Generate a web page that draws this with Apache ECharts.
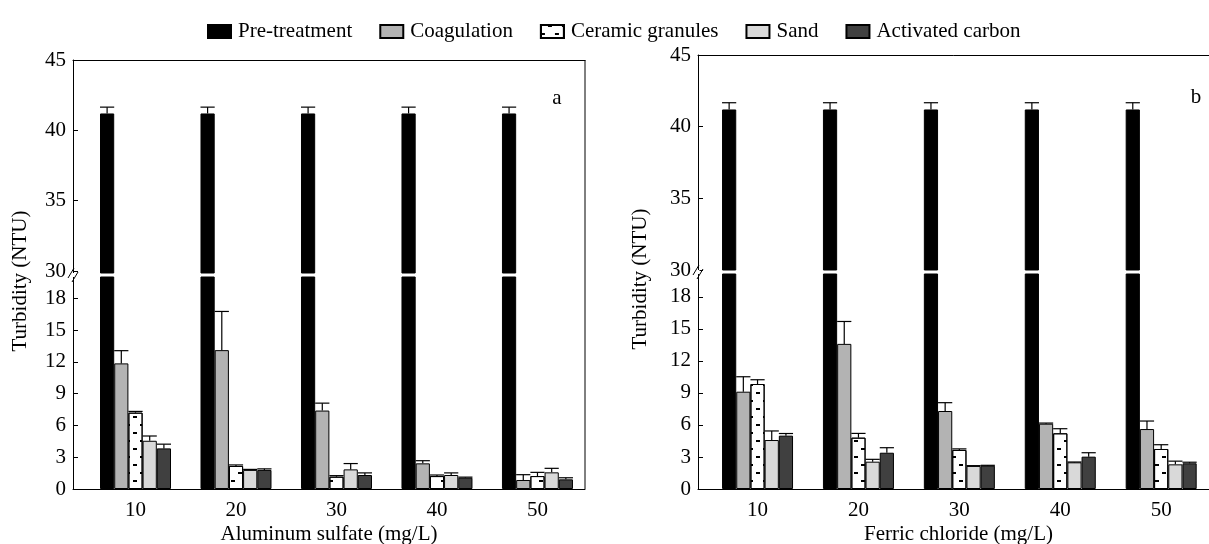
<!DOCTYPE html>
<html>
<head>
<meta charset="utf-8">
<script src="https://cdn.jsdelivr.net/npm/echarts@6/dist/echarts.min.js"></script>
<style>
html,body{margin:0;padding:0;background:#fff;}
#chart{width:1209px;height:544px;}
</style>
</head>
<body>
<div id="chart"></div>
<script>
// ---------------- data ----------------
const categories = [10, 20, 30, 40, 50];
const seriesNames = ['Pre-treatment', 'Coagulation', 'Ceramic granules', 'Sand', 'Activated carbon'];
const upperTicks = [30, 35, 40, 45];
const lowerTicks = [0, 3, 6, 9, 12, 15, 18];

// Panel a: Aluminum sulfate
const alPre = [41.2, 41.2, 41.2, 41.2, 41.2];
const alPreErr = [0.45, 0.45, 0.45, 0.45, 0.45];
const alCoag = [11.85, 13.1, 7.4, 2.42, 0.85];
const alCoagErr = [1.2, 3.65, 0.7, 0.25, 0.5];
const alCer = [7.2, 2.17, 1.16, 1.22, 1.22];
const alCerErr = [0.12, 0.1, 0.1, 0.1, 0.35];
const alSand = [4.55, 1.8, 1.85, 1.32, 1.57];
const alSandErr = [0.45, 0.05, 0.55, 0.2, 0.38];
const alAC = [3.83, 1.8, 1.32, 1.07, 0.91];
const alACErr = [0.4, 0.1, 0.2, 0.05, 0.15];

// Panel b: Ferric chloride
const fePre = [41.2, 41.2, 41.2, 41.2, 41.2];
const fePreErr = [0.47, 0.47, 0.47, 0.47, 0.47];
const feCoag = [9.12, 13.6, 7.31, 6.12, 5.62];
const feCoagErr = [1.4, 2.1, 0.78, 0.06, 0.75];
const feCer = [9.84, 4.81, 3.66, 5.22, 3.75];
const feCerErr = [0.4, 0.4, 0.1, 0.43, 0.4];
const feSand = [4.59, 2.56, 2.16, 2.5, 2.31];
const feSandErr = [0.85, 0.22, 0.03, 0.03, 0.3];
const feAC = [5.0, 3.4, 2.19, 3.03, 2.41];
const feACErr = [0.2, 0.47, 0.03, 0.37, 0.1];

// ---------------- styles ----------------
const FONT = 'Liberation Serif';
const FS = 21;
const BAR_W = 14.2;
const seriesStyles = [
  { color: '#000000', borderColor: '#000', borderWidth: 1 },
  { color: '#b3b3b3', borderColor: '#000', borderWidth: 1 },
  { color: '#ffffff', borderColor: '#000', borderWidth: 1,
    decal: { symbol: 'rect', symbolSize: 1, color: '#000',
             dashArrayX: [[4, 10], [0, 7, 4, 3]], dashArrayY: [1.2, 5.8], rotation: 0 } },
  { color: '#d9d9d9', borderColor: '#000', borderWidth: 1 },
  { color: '#404040', borderColor: '#000', borderWidth: 1 }
];

const panels = [
  { vals: [alPre, alCoag, alCer, alSand, alAC],
    errs: [alPreErr, alCoagErr, alCerErr, alSandErr, alACErr],
    xName: 'Aluminum sulfate (mg/L)', xMin: 3.78, xMax: 54.73,
    left: 73, right: 1209 - 585,
    upTop: 60, upBottom: 273, upMin: 29.86,
    lowTop: 277, lowMax: 20 },
  { vals: [fePre, feCoag, feCer, feSand, feAC],
    errs: [fePreErr, feCoagErr, feCerErr, feSandErr, feACErr],
    xName: 'Ferric chloride (mg/L)', xMin: 4.1, xMax: 55.73,
    left: 698, right: -10,
    upTop: 55, upBottom: 270, upMin: 30,
    lowTop: 274, lowMax: 20.15 }
];
const BOTTOM_Y = 489;

const grid = [], xAxis = [], yAxis = [], series = [];
const axisLineStyle = { color: '#000', width: 1 };
const labelStyle = { fontFamily: FONT, fontSize: FS, color: '#000' };

function errRender(params, api) {
  const x = api.value(0), v = api.value(1), e = api.value(2), k = api.value(3);
  const base = api.coord([x, v]);
  const top = api.coord([x, v + e]);
  const cx = base[0] + (k - 2) * BAR_W;
  const st = { stroke: '#000', lineWidth: 1.2 };
  return { type: 'group', children: [
    { type: 'line', shape: { x1: cx, y1: base[1], x2: cx, y2: top[1] }, style: st },
    { type: 'line', shape: { x1: cx - BAR_W / 2, y1: top[1], x2: cx + BAR_W / 2, y2: top[1] }, style: st }
  ]};
}

panels.forEach((p, pi) => {
  const gU = grid.length;
  grid.push({ left: p.left, right: p.right, top: p.upTop, height: p.upBottom - p.upTop,
    containLabel: false, outerBoundsMode: 'none' });
  const gL = grid.length;
  grid.push({ left: p.left, right: p.right, top: p.lowTop, height: BOTTOM_Y - p.lowTop,
    containLabel: false, outerBoundsMode: 'none' });

  const xU = xAxis.length;
  xAxis.push({ type: 'value', gridIndex: gU, min: p.xMin, max: p.xMax, position: 'top',
    axisLine: { show: true, onZero: false, lineStyle: axisLineStyle }, axisTick: { show: false },
    axisLabel: { show: false }, splitLine: { show: false } });
  const xL = xAxis.length;
  xAxis.push({ type: 'value', gridIndex: gL, min: p.xMin, max: p.xMax, position: 'bottom',
    axisLine: { show: true, onZero: false, lineStyle: axisLineStyle }, axisTick: { show: false },
    axisLabel: Object.assign({ customValues: categories, margin: 11 }, labelStyle),
    splitLine: { show: false },
    name: p.xName, nameLocation: 'middle', nameGap: 35,
    nameTextStyle: { fontFamily: FONT, fontSize: FS, color: '#000' } });

  const yU = yAxis.length;
  yAxis.push({ type: 'value', gridIndex: gU, min: p.upMin, max: 45,
    axisLine: { show: true, onZero: false, lineStyle: axisLineStyle },
    axisTick: { show: true, inside: true, length: 5, customValues: upperTicks, lineStyle: axisLineStyle },
    axisLabel: Object.assign({ customValues: upperTicks, margin: 7 }, labelStyle),
    splitLine: { show: false } });
  const yL = yAxis.length;
  yAxis.push({ type: 'value', gridIndex: gL, min: 0, max: p.lowMax,
    axisLine: { show: true, onZero: false, lineStyle: axisLineStyle },
    axisTick: { show: true, inside: true, length: 5, customValues: lowerTicks, lineStyle: axisLineStyle },
    axisLabel: Object.assign({ customValues: lowerTicks, margin: 7 }, labelStyle),
    splitLine: { show: false } });

  [[xU, yU, 'up'], [xL, yL, 'low']].forEach(([xi, yi, part]) => {
    seriesNames.forEach((name, k) => {
      series.push({
        type: 'bar', name: name, xAxisIndex: xi, yAxisIndex: yi,
        barWidth: BAR_W, barGap: '0%', clip: true,
        itemStyle: seriesStyles[k],
        emphasis: { disabled: true },
        data: categories.map((c, i) => [c, p.vals[k][i]])
      });
    });
    const errData = [];
    seriesNames.forEach((name, k) => {
      if ((part === 'up') !== (k === 0)) return;
      categories.forEach((c, i) => errData.push([c, p.vals[k][i], p.errs[k][i], k]));
    });
    series.push({ type: 'custom', xAxisIndex: xi, yAxisIndex: yi, clip: true, z: 5,
      renderItem: errRender, encode: { x: 0, y: 1 }, data: errData, silent: true });
  });
});

function breakMark(x, y) {
  return [
    { type: 'rect', shape: { x: x - 1.5, y: y - 2, width: 3, height: 4 }, style: { fill: '#fff' }, z: 50 },
    { type: 'line', shape: { x1: x - 5, y1: y + 3, x2: x + 1, y2: y - 7 }, style: { stroke: '#000', lineWidth: 1 }, z: 51 },
    { type: 'line', shape: { x1: x - 1, y1: y + 7, x2: x + 5, y2: y - 3 }, style: { stroke: '#000', lineWidth: 1 }, z: 51 }
  ];
}
const textFont = FS + 'px "Liberation Serif"';

const option = {
  animation: false,
  backgroundColor: '#fff',
  legend: {
    data: seriesNames, top: 16, left: 202,
    itemWidth: 23, itemHeight: 13, itemGap: 27,
    icon: 'rect', selectedMode: false,
    textStyle: { fontFamily: FONT, fontSize: FS, color: '#000', padding: [0, 0, 0, 2] }
  },
  grid: grid, xAxis: xAxis, yAxis: yAxis, series: series,
  graphic: [].concat(
    breakMark(73, 275), breakMark(698, 272),
    [
      { type: 'line', shape: { x1: 585, y1: 60, x2: 585, y2: 489 }, style: { stroke: '#000', lineWidth: 1 }, z: 40 },
      { type: 'text', x: 20, y: 281, rotation: Math.PI / 2,
        style: { text: 'Turbidity (NTU)', font: textFont, fill: '#000', align: 'center', verticalAlign: 'middle' } },
      { type: 'text', x: 640, y: 279, rotation: Math.PI / 2,
        style: { text: 'Turbidity (NTU)', font: textFont, fill: '#000', align: 'center', verticalAlign: 'middle' } },
      { type: 'text', x: 557, y: 98,
        style: { text: 'a', font: textFont, fill: '#000', align: 'center', verticalAlign: 'middle' } },
      { type: 'text', x: 1196, y: 97,
        style: { text: 'b', font: textFont, fill: '#000', align: 'center', verticalAlign: 'middle' } }
    ])
};

const chart = echarts.init(document.getElementById('chart'), null, { renderer: 'canvas' });
chart.setOption(option);
</script>
</body>
</html>
